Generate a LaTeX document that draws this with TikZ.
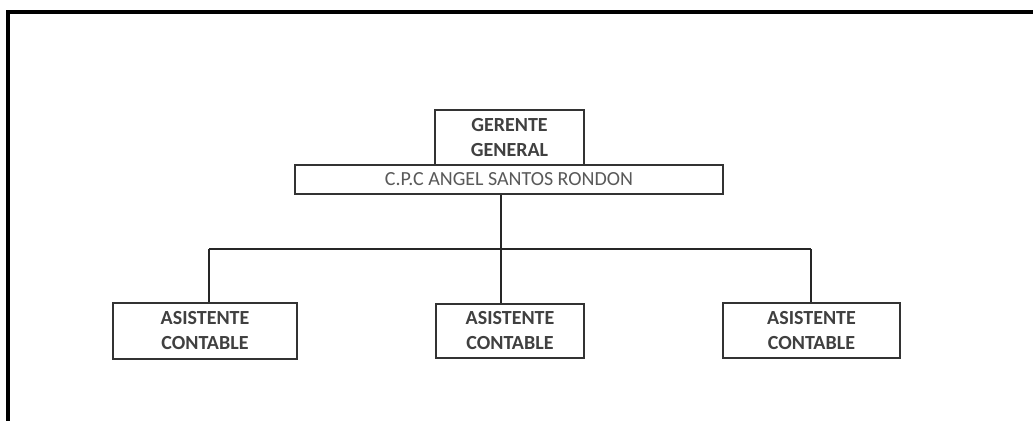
\documentclass[tikz,border=0pt]{standalone}
\usepackage{fontspec}
\setmainfont{Carlito}
\usepackage{tikz}

\begin{document}
\begin{tikzpicture}[x=0.75pt,y=-0.75pt,
    box/.style={draw=black!80, line width=2.2pt, fill=white, align=center, inner sep=0pt,
        font=\fontsize{15}{18.75}\selectfont\bfseries, text=black!75},
    link/.style={draw=black!85, line width=2pt}]
    \useasboundingbox (0,0) rectangle (1033,421);

    % Frame of the page (top and left edges only)
    \draw[line width=2.4pt] (8,421) -- (8,12) -- (1033,12);

    % Coordinates for the junctions of the connectors
    \coordinate (J1) at (209,249);
    \coordinate (J2) at (501,249);
    \coordinate (J3) at (811,249);

    % Manager and his name
    \node[box, minimum width=149*0.75pt, minimum height=55*0.75pt] (ger) at (509.5,137.5) {GERENTE\\GENERAL};
    \node[box, minimum width=428*0.75pt, minimum height=29*0.75pt,
        font=\fontsize{15}{16}\selectfont, text=black!65] (cpc) at (509,179.5) {C.P.C ANGEL SANTOS RONDON};

    % Assistants
    \node[box, minimum width=184*0.75pt, minimum height=56*0.75pt] (as1) at (205,331) {ASISTENTE\\CONTABLE};
    \node[box, minimum width=148*0.75pt, minimum height=54*0.75pt] (as2) at (510,331) {ASISTENTE\\CONTABLE};
    \node[box, minimum width=177*0.75pt, minimum height=55*0.75pt] (as3) at (811.5,330.5) {ASISTENTE\\CONTABLE};

    % Connectors
    \draw[link] (J1) -- (J3);
    \draw[link] (cpc.south -| J2) -- (J2);
    \draw[link] (J1) -- (J1 |- as1.north);
    \draw[link] (J2) -- (J2 |- as2.north);
    \draw[link] (J3) -- (J3 |- as3.north);

\end{tikzpicture}
\end{document}
